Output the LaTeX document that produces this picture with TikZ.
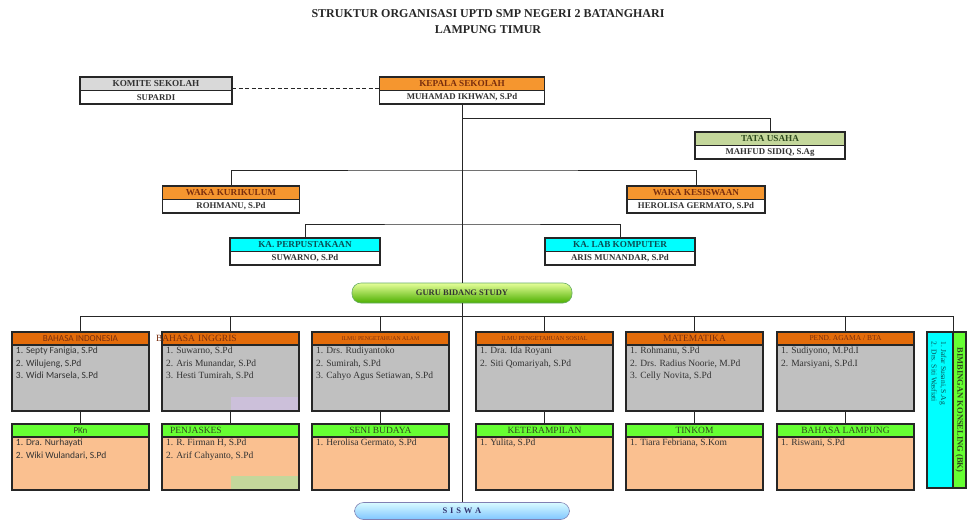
\documentclass[tikz,border=0pt]{standalone}
\usepackage{fontspec}
\setmainfont{Liberation Serif}
\newfontfamily\calibri{Carlito}
\usetikzlibrary{positioning}

\definecolor{oranye}{HTML}{F5962F}
\definecolor{oranyetua}{HTML}{E46C0A}
\definecolor{abu}{HTML}{C0C0C0}
\definecolor{abumuda}{HTML}{D9D9D9}
\definecolor{hijau}{HTML}{66FF33}
\definecolor{hijaumuda}{HTML}{C4D79B}
\definecolor{peach}{HTML}{FAC090}
\definecolor{ungu}{HTML}{CCC0DA}
\definecolor{tosca}{HTML}{00FFFF}
\definecolor{teksmerah}{HTML}{7A2E0E}
\definecolor{tekshijau}{HTML}{2E4A1E}
\definecolor{tekstosca}{HTML}{0A4F55}
\definecolor{teksabu}{HTML}{333333}

\tikzset{
  kotak/.style={draw=black!85, line width=1.2pt, inner sep=0pt, outer sep=0pt, minimum height=13.5pt},
  judul/.style={kotak, font=\bfseries\fontsize{9.2}{10}\selectfont},
  nama/.style={kotak, fill=white, text=teksabu, font=\bfseries\fontsize{8.8}{10}\selectfont},
  kepalamapel/.style={kotak, minimum width=137pt, minimum height=13pt, fill=oranyetua, text=teksmerah},
  kepalahijau/.style={kotak, minimum width=137pt, minimum height=13pt, fill=hijau, text=tekshijau,
    font=\fontsize{9.5}{10}\selectfont},
  isimapel/.style={kotak, minimum width=137pt, inner xsep=4pt, text=teksabu},
  garis/.style={draw=black!85, line width=1pt},
  lonjong/.style={draw=#1, line width=0.6pt, rounded corners=9pt, inner sep=0pt,
    font=\bfseries\fontsize{8.5}{10}\selectfont}
}

% kotak mata pelajaran: nama, x, y, gaya kepala, teks kepala, gaya isi, tinggi isi, daftar guru
\newcommand{\mapel}[8]{%
  \node[#4, anchor=north west] (#1) at (#2,#3) {#5};
  \node[isimapel, #6, below=0pt of #1] (#1-isi)
    {\parbox[t][#7][t]{129pt}{\fontsize{9.5}{12.6}\selectfont\vspace*{2pt}#8}};
}

\begin{document}
\begin{tikzpicture}[x=1pt, y=-1pt]
\useasboundingbox (0,0) rectangle (968,522);

% judul
\node[font=\bfseries\fontsize{12}{16}\selectfont, text=black!85, align=center] (judul) at (488,22)
  {STRUKTUR ORGANISASI UPTD SMP NEGERI 2 BATANGHARI\\LAMPUNG TIMUR};

% pimpinan
\node[judul, fill=abumuda, text=teksabu, minimum width=152pt, anchor=north] (komite) at (156,77) {KOMITE SEKOLAH};
\node[nama, minimum width=152pt, below=0pt of komite] (komite-nama) {SUPARDI};
\node[judul, fill=oranye, text=teksmerah, minimum width=165pt, anchor=north] (kepsek) at (462,77) {KEPALA SEKOLAH};
\node[nama, minimum width=165pt, below=0pt of kepsek] (kepsek-nama) {MUHAMAD IKHWAN, S.Pd};
\node[judul, fill=hijaumuda, text=tekshijau, minimum width=150pt, anchor=north] (tu) at (770,132) {TATA USAHA};
\node[nama, minimum width=150pt, below=0pt of tu] (tu-nama) {MAHFUD SIDIQ, S.Ag};

\node[judul, fill=oranye, text=teksmerah, minimum width=137pt, anchor=north] (wakakur) at (231,186) {WAKA KURIKULUM};
\node[nama, minimum width=137pt, below=0pt of wakakur] (wakakur-nama) {ROHMANU, S.Pd};
\node[judul, fill=oranye, text=teksmerah, minimum width=138pt, anchor=north] (wakasis) at (696,186) {WAKA KESISWAAN};
\node[nama, minimum width=138pt, below=0pt of wakasis] (wakasis-nama) {HEROLISA GERMATO, S.Pd};

\node[judul, fill=tosca, text=tekstosca, minimum width=150pt, anchor=north] (perpus) at (305,238) {KA. PERPUSTAKAAN};
\node[nama, minimum width=150pt, below=0pt of perpus] (perpus-nama) {SUWARNO, S.Pd};
\node[judul, fill=tosca, text=tekstosca, minimum width=150pt, anchor=north] (lab) at (620,238) {KA. LAB KOMPUTER};
\node[nama, minimum width=150pt, below=0pt of lab] (lab-nama) {ARIS MUNANDAR, S.Pd};

% guru dan siswa
\node[lonjong=green!45!black!60, top color=green!25!yellow!40, bottom color=green!55!black!70!yellow,
  text=black!80, minimum width=220pt, minimum height=20pt] (guru) at (462,293) {GURU BIDANG STUDY};
\node[lonjong=blue!40!black!50, top color=blue!10!cyan!15, bottom color=blue!45!cyan!50,
  text=blue!30!black!80, minimum width=215pt, minimum height=17pt] (siswa) at (462,511) {S\,\,I\,\,S\,\,W\,\,A};

% baris pertama
\mapel{a1}{12}{332}{kepalamapel, font=\calibri\fontsize{9.2}{10}\selectfont}{BAHASA INDONESIA}{fill=abu}{66pt}
  {\calibri 1. Septy Fanigia, S.Pd\\2. Wilujeng, S.Pd\\3. Widi Marsela, S.Pd}
\mapel{a2}{162}{332}{kepalamapel, font=\fontsize{9.5}{10}\selectfont, text width=137pt, align=left}{\hspace*{-6pt}BAHASA INGGRIS}{fill=abu}{66pt}
  {1. Suwarno, S.Pd\\2. Aris Munandar, S.Pd\\3. Hesti Tumirah, S.Pd}
\mapel{a3}{312}{332}{kepalamapel, font=\fontsize{5.8}{7}\selectfont}{ILMU PENGETAHUAN ALAM}{fill=abu}{66pt}
  {1. Drs. Rudiyantoko\\2. Sumirah, S.Pd\\3. Cahyo Agus Setiawan, S.Pd}
\mapel{a4}{476}{332}{kepalamapel, font=\fontsize{6.2}{7}\selectfont}{ILMU PENGETAHUAN SOSIAL}{fill=abu}{66pt}
  {1. Dra. Ida Royani\\2. Siti Qomariyah, S.Pd}
\mapel{a5}{626}{332}{kepalamapel, font=\fontsize{9.5}{10}\selectfont}{MATEMATIKA}{fill=abu}{66pt}
  {1. Rohmanu, S.Pd\\2. Drs. Radius Noorie, M.Pd\\3. Celly Novita, S.Pd}
\mapel{a6}{777}{332}{kepalamapel, font=\fontsize{7.5}{8}\selectfont}{PEND. AGAMA / BTA}{fill=abu}{66pt}
  {1. Sudiyono, M.Pd.I\\2. Marsiyani, S.Pd.I}

% baris kedua
\mapel{b1}{12}{424}{kepalahijau, font=\calibri\fontsize{9}{10}\selectfont}{PKn}{fill=peach}{53pt}
  {\calibri 1. Dra. Nurhayati\\2. Wiki Wulandari, S.Pd}
\mapel{b2}{162}{424}{kepalahijau, text width=137pt, align=left}{\hspace*{8pt}PENJASKES}{fill=peach}{53pt}
  {1. R. Firman H, S.Pd\\2. Arif Cahyanto, S.Pd}
\mapel{b3}{312}{424}{kepalahijau}{SENI BUDAYA}{fill=peach}{53pt}
  {1. Herolisa Germato, S.Pd}
\mapel{b4}{476}{424}{kepalahijau}{KETERAMPILAN}{fill=peach}{53pt}
  {1. Yulita, S.Pd}
\mapel{b5}{626}{424}{kepalahijau}{TINKOM}{fill=peach}{53pt}
  {1. Tiara Febriana, S.Kom}
\mapel{b6}{777}{424}{kepalahijau}{BAHASA LAMPUNG}{fill=peach}{53pt}
  {1. Riswani, S.Pd}

% bercak warna di dalam kotak
\fill[ungu] (231,397) rectangle (298,410.4);
\fill[hijaumuda] (231,476) rectangle (298,489.4);

% bimbingan konseling
\node[kotak, fill=tosca, minimum width=26pt, minimum height=156pt, anchor=north west] (bk-isi) at (927,332) {};
\node[kotak, fill=hijau, minimum width=13pt, minimum height=156pt, anchor=north west] (bk) at (bk-isi.north east) {};
\node[rotate=-90, anchor=north west, align=left, text=tekstosca, font=\fontsize{7.5}{9.5}\selectfont]
  (bk-nama) at ([xshift=-3pt, yshift=-6pt]bk-isi.north east) {1. Jafar Susani, S.Ag\\2. Drs. Siti Wasfiati};
\node[rotate=-90, text=tekshijau, font=\bfseries\fontsize{8.5}{10}\selectfont] (bk-judul) at (bk.center)
  {BIMBINGAN KONSELING (BK)};

% garis penghubung
\coordinate (simpul-tu) at (462,118);
\coordinate (simpul-waka) at (462,170);
\coordinate (simpul-ka) at (462,224);
\coordinate (simpul-guru) at (462,316);
\draw[garis, dash pattern=on 4pt off 2.5pt, line width=1.3pt] ([yshift=2pt]komite-nama.north east) -- ([yshift=2pt]kepsek-nama.north west);
\draw[garis] (kepsek-nama.south) -- (guru.north);
\draw[garis] (guru.south) -- (siswa.north);
\draw[garis] (tu.north) |- (simpul-tu);
\draw[garis] (wakakur.north) |- (simpul-waka) -| (wakasis.north);
\draw[garis] (perpus.north) |- (simpul-ka) -| (lab.north);
\draw[garis] (a1.north |- simpul-guru) -- (simpul-guru -| bk-isi.north east) -- (bk-isi.north east);
\foreach \i in {1,...,6} {
  \draw[garis] (a\i.north) -- (a\i.north |- simpul-guru);
  \draw[garis] (a\i-isi.south) -- (b\i.north);
}
\end{tikzpicture}
\end{document}
